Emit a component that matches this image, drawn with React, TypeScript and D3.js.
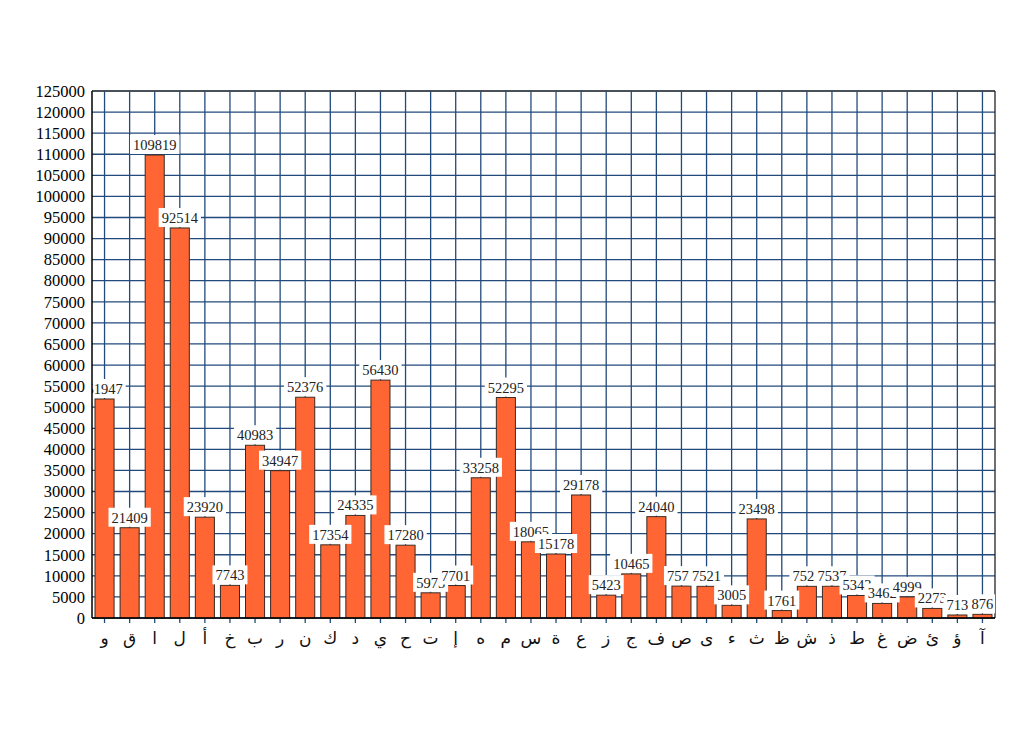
import React, { useEffect, useRef } from 'react';
import * as d3 from 'd3';

// letters in the order they appear on the x axis
const letters = [
  'و', 'ق', 'ا', 'ل', 'أ', 'خ', 'ب', 'ر', 'ن', 'ك', 'د', 'ي', 'ح', 'ت', 'إ', 'ه', 'م', 'س',
  'ة', 'ع', 'ز', 'ج', 'ف', 'ص', 'ى', 'ء', 'ث', 'ظ', 'ش', 'ذ', 'ط', 'غ', 'ض', 'ئ', 'ؤ', 'آ',
];

const counts = [
  51947, 21409, 109819, 92514, 23920, 7743, 40983, 34947, 52376, 17354, 24335, 56430, 17280, 5973, 7701, 33258, 52295, 18065,
  15178, 29178, 5423, 10465, 24040, 7573, 7521, 3005, 23498, 1761, 7523, 7537, 5343, 3462, 4999, 2273, 713, 876,
];

const yTicks = d3.range(0, 125001, 5000);

export default function App() {
  const svgRef = useRef<SVGSVGElement>(null);

  useEffect(() => {
    if (!svgRef.current) return;
    const svg = d3.select(svgRef.current);
    svg.selectAll('*').remove();

    const margin = { top: 83, left: 84, right: 987, bottom: 610 };
    const serif = '"Liberation Serif", "Times New Roman", serif';

    const x = d3.scaleBand<string>()
      .domain(letters.map((l, i) => String(i)))
      .range([margin.left, margin.right])
      .paddingInner(0.24)
      .paddingOuter(0.12);

    const y = d3.scaleLinear().domain([0, 125000]).range([margin.bottom, margin.top]);

    svg.append('defs').append('clipPath').attr('id', 'plot-clip')
      .append('rect')
      .attr('x', margin.left)
      .attr('y', margin.top - 30)
      .attr('width', margin.right - margin.left)
      .attr('height', margin.bottom - margin.top + 30);

    // grid
    const grid = svg.append('g');
    grid.selectAll('.hgrid')
      .data(yTicks)
      .join('line')
      .attr('x1', margin.left)
      .attr('x2', margin.right)
      .attr('y1', d => y(d))
      .attr('y2', d => y(d))
      .attr('stroke', '#234a7c')
      .attr('stroke-width', 1.3);

    grid.selectAll('.vgrid')
      .data(letters.map((l, i) => String(i)))
      .join('line')
      .attr('x1', d => x(d)! + x.bandwidth() / 2)
      .attr('x2', d => x(d)! + x.bandwidth() / 2)
      .attr('y1', margin.top)
      .attr('y2', margin.bottom + 5)
      .attr('stroke', '#234a7c')
      .attr('stroke-width', 1.3);

    // frame: top and right
    svg.append('line')
      .attr('x1', margin.left).attr('x2', margin.right)
      .attr('y1', margin.top).attr('y2', margin.top)
      .attr('stroke', '#444').attr('stroke-width', 1.3);
    svg.append('line')
      .attr('x1', margin.right).attr('x2', margin.right)
      .attr('y1', margin.top).attr('y2', margin.bottom)
      .attr('stroke', '#222').attr('stroke-width', 1.3);

    // bars
    svg.append('g')
      .selectAll('rect')
      .data(counts)
      .join('rect')
      .attr('x', (d, i) => x(String(i))!)
      .attr('y', d => y(d))
      .attr('width', x.bandwidth())
      .attr('height', d => margin.bottom - y(d))
      .attr('fill', '#ff6633')
      .attr('stroke', '#3a2a22')
      .attr('stroke-width', 1);

    // value labels, later ones covering earlier ones
    const labels = svg.append('g').attr('clip-path', 'url(#plot-clip)');
    counts.forEach((v, i) => {
      const cx = x(String(i))! + x.bandwidth() / 2;
      const g = labels.append('g');
      const t = g.append('text')
        .attr('x', cx)
        .attr('y', y(v) - 5)
        .attr('text-anchor', 'middle')
        .attr('font-family', serif)
        .attr('font-size', 14.5)
        .attr('fill', '#222')
        .text(String(v));
      const w = (t.node() as SVGTextElement).getComputedTextLength();
      g.insert('rect', 'text')
        .attr('x', cx - w / 2 - 3)
        .attr('y', y(v) - 20)
        .attr('width', w + 6)
        .attr('height', 19)
        .attr('fill', '#fff');
    });

    // axes
    svg.append('line')
      .attr('x1', margin.left).attr('x2', margin.left)
      .attr('y1', margin.top).attr('y2', margin.bottom)
      .attr('stroke', '#000').attr('stroke-width', 1.5);
    svg.append('line')
      .attr('x1', margin.left).attr('x2', margin.right)
      .attr('y1', margin.bottom).attr('y2', margin.bottom)
      .attr('stroke', '#000').attr('stroke-width', 1.5);

    svg.append('g')
      .selectAll('text')
      .data(yTicks)
      .join('text')
      .attr('x', margin.left - 7)
      .attr('y', d => y(d))
      .attr('dy', '0.35em')
      .attr('text-anchor', 'end')
      .attr('font-family', serif)
      .attr('font-size', 16.5)
      .attr('fill', '#000')
      .text(d => String(d));

    svg.append('g')
      .selectAll('text')
      .data(letters)
      .join('text')
      .attr('x', (d, i) => x(String(i))! + x.bandwidth() / 2)
      .attr('y', margin.bottom + 26)
      .attr('text-anchor', 'middle')
      .attr('font-family', '"DejaVu Sans", "Noto Sans", sans-serif')
      .attr('font-size', 17)
      .attr('fill', '#111')
      .text(d => d);
  }, []);

  return <svg ref={svgRef} width={1008} height={730} style={{ display: 'block' }} />;
}
